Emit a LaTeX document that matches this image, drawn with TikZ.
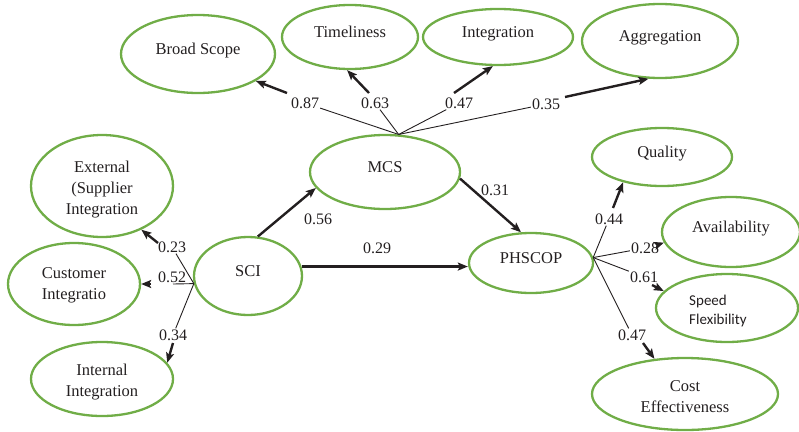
\documentclass[tikz,border=0pt]{standalone}
\usepackage{fontspec}
\setmainfont{Liberation Serif}
\newfontfamily\calibrifont{Carlito}
\usetikzlibrary{shapes.geometric,arrows.meta}
\definecolor{egreen}{RGB}{112,173,71}
\definecolor{ink}{RGB}{35,31,32}
\newcommand{\tallstrut}[1]{\rule{0pt}{#1}}
\begin{document}
\begin{tikzpicture}[x=1pt,y=-1pt,
  lat/.style={ellipse,draw=egreen,line width=2.3pt,inner sep=0pt,text=ink,
              font=\fontsize{16.5}{21}\selectfont,align=center},
  one/.style={text height=11pt,text depth=10pt},
  coef/.style={font=\fontsize{16}{19}\selectfont,text=ink,inner sep=1pt},
  hair/.style={draw=ink,line width=0.9pt},
  arr/.style={draw=ink,line width=2.4pt,-{Stealth[length=10pt,width=8pt,inset=2pt]}}]
\useasboundingbox (0,0) rectangle (799,431);

% latent / indicator ellipses
\node[lat,one,minimum width=154pt,minimum height=78pt] (bs) at (198,54) {Broad Scope};
\node[lat,one,minimum width=136pt,minimum height=64pt] (tl) at (350,37) {Timeliness};
\node[lat,one,minimum width=150pt,minimum height=56pt] (ig) at (498,37) {Integration};
\node[lat,one,minimum width=156pt,minimum height=74pt] (ag) at (660,41) {Aggregation};
\node[lat,one,minimum width=150pt,minimum height=74pt] (mcs) at (385,172) {MCS};
\node[lat,one,minimum width=124pt,minimum height=60pt] (ph) at (531,263) {PHSCOP};
\node[lat,one,minimum width=140pt,minimum height=58pt] (q) at (662,157) {Quality};
\node[lat,one,minimum width=138pt,minimum height=70pt] (av) at (731,232) {Availability};
\node[lat,minimum width=142pt,minimum height=68pt,align=left,
      font=\calibrifont\fontsize{15}{19}\selectfont] (sp) at (727,308) {\tallstrut{17pt}Speed\\Flexibility\hspace*{18pt}};
\node[lat,minimum width=186pt,minimum height=72pt] (co) at (685,394) {\tallstrut{17pt}Cost\\Effectiveness};
\node[lat,minimum width=142pt,minimum height=102pt] (ex) at (102,186) {\tallstrut{19pt}External\\(Supplier\\Integration};
\node[lat,minimum width=132pt,minimum height=82pt] (cu) at (74,284) {\tallstrut{13pt}Customer\\Integratio};
\node[lat,minimum width=142pt,minimum height=74pt] (inn) at (102,379) {\tallstrut{17pt}Internal\\Integration};
\node[lat,one,minimum width=108pt,minimum height=78pt] (sci) at (248,276) {SCI};

% hubs
\coordinate (hm) at (mcs.70);
\coordinate (hp) at (ph.5);
\coordinate (hs) at (sci.-172);

% coefficient labels
\node[coef] (c087) at (305,103) {0.87};
\node[coef] (c063) at (375,103) {0.63};
\node[coef] (c047a) at (459,103) {0.47};
\node[coef] (c035) at (546,104) {0.35};
\node[coef] (c056) at (318,219) {0.56};
\node[coef] (c031) at (495,190) {0.31};
\node[coef] (c029) at (377,248) {0.29};
\node[coef] (c044) at (609,219) {0.44};
\node[coef] (c028) at (645,248) {0.28};
\node[coef] (c061) at (644,277) {0.61};
\node[coef] (c047b) at (632,335) {0.47};
\node[coef] (c023) at (172,247) {0.23};
\node[coef] (c052) at (172,277) {0.52};
\node[coef] (c034) at (173,335) {0.34};

% thin lines from hubs to labels
\draw[hair] (hm) -- (c087);
\draw[hair] (hm) -- (c063);
\draw[hair] (hm) -- (c047a);
\draw[hair] (hm) -- (c035);
\draw[hair] (hp) -- (c044);
\draw[hair] (hp) -- (c028);
\draw[hair] (hp) -- (c061);
\draw[hair] (hp) -- (c047b);
\draw[hair] (hs) -- (c023);
\coordinate (u052) at (173,284);
\draw[hair] (hs) -- (u052);
\draw[hair] (hs) -- (c034);

% thick arrow segments from labels to indicators
\coordinate (s087) at (287,93);
\coordinate (s063) at (369,93);
\coordinate (s047a) at (454,93);
\coordinate (s035) at (565,97);
\coordinate (s044) at (613,208);
\coordinate (s028) at (657,245);
\coordinate (s061) at (652,285);
\coordinate (s047b) at (643,343);
\coordinate (s023) at (158,243);
\coordinate (s052) at (151,284);
\coordinate (s034) at (173,343);
\draw[arr] (s087) -- (bs.-25);
\draw[arr] (s063) -- (tl.-95);
\draw[arr] (s047a) -- (ig.-100);
\draw[arr] (s035) -- (ag.-107);
\draw[arr] (s044) -- (q.-147);
\draw[arr] (s028) -- (av.-171);
\draw[arr] (s061) -- (sp.165);
\draw[arr] (s047b) -- (co.131);
\draw[arr] (s023) -- (ex.-48);
\draw[arr] (s052) -- (cu.east);
\draw[arr] (s034) -- (inn.14);

% structural paths
\draw[arr] (sci.76) -- (mcs.-167);
\draw[arr] (mcs.-5) -- (ph.108);
\draw[arr] (sci.10) -- (sci.10 -| ph.west);
\end{tikzpicture}
\end{document}
